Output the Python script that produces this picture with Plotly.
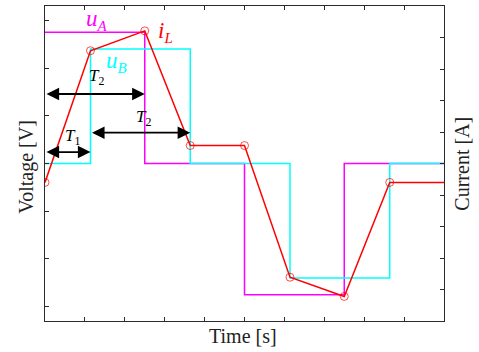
import plotly.graph_objects as go

# switching instants (time axis 0..10), T1 shift and T2 half period
t_a = [0, 2.5, 5, 7.5, 10]
u_a = [2.75, 0, -2.75, 0, 0]

t_b = [0, 1.14, 3.64, 6.14, 8.64, 10]
u_b = [0, 2.4, 0, -2.4, 0, 0]

t_i = [0, 1.14, 2.5, 3.64, 5, 6.14, 7.5, 8.64, 10]
i_l = [-0.6, 3.58, 4.21, 0.57, 0.57, -3.61, -4.22, -0.6, -0.6]

serif = "Liberation Serif, DejaVu Serif, serif"
axcol = "#2b2b2b"

fig = go.Figure()
fig.add_trace(go.Scatter(x=t_a, y=u_a, mode="lines", line_shape="hv",
                         line=dict(color="#ff00ff", width=1.5)))
fig.add_trace(go.Scatter(x=t_b, y=u_b, mode="lines", line_shape="hv",
                         line=dict(color="#00ffff", width=1.5)))
fig.add_trace(go.Scatter(x=t_i, y=i_l, yaxis="y2", mode="lines+markers",
                         line=dict(color="#ff0000", width=1.5),
                         marker=dict(symbol="circle-open", color="#ff0000",
                                     size=[8] * 8 + [0], line=dict(width=1))))

# double arrows for T1 / T2
arrows = [(0, 2.5, 1.456), (1.14, 3.64, 0.645), (0, 1.14, 0.24)]
for x0, x1, yy in arrows:
    fig.add_annotation(x=x1, y=yy, ax=x0, ay=yy, xref="x", yref="y",
                       axref="x", ayref="y", text="", showarrow=True,
                       arrowside="end+start", arrowhead=2, arrowsize=1.4,
                       arrowwidth=1.8, arrowcolor="black")

sub = "<sub><span style='font-size:15px'>%s</span></sub>"
labels = [
    (1.30, 3.0, "<i>u</i>" + sub % "<i>A</i>", "#ff00ff", 23),
    (3.02, 2.76, "<i>i</i>" + sub % "<i>L</i>", "#ff0000", 23),
    (1.80, 2.13, "<i>u</i>" + sub % "<i>B</i>", "#00ffff", 23),
    (1.28, 1.81, "<i>T</i><sub>2</sub>", "black", 17),
    (2.46, 0.95, "<i>T</i><sub>2</sub>", "black", 17),
    (0.70, 0.56, "<i>T</i><sub>1</sub>", "black", 17),
]
for x, y, txt, col, sz in labels:
    fig.add_annotation(x=x, y=y, xref="x", yref="y", text=txt, showarrow=False,
                       font=dict(family=serif, size=sz, color=col))

# axis titles placed as paper annotations so the plot frame stays put
titles = [
    (0.496, -0.047, "Time [s]", 0),
    (-0.045, 0.49, "Voltage [V]", -90),
    (1.043, 0.5, "Current [A]", -90),
]
for x, y, txt, ang in titles:
    fig.add_annotation(x=x, y=y, xref="paper", yref="paper", text=txt,
                       textangle=ang, showarrow=False, xanchor="center",
                       yanchor="middle", font=dict(family=serif, size=20, color="#222"))

fig.update_layout(
    width=479, height=352,
    margin=dict(l=45, r=35, t=6, b=31),
    paper_bgcolor="white", plot_bgcolor="white",
    showlegend=False,
    font=dict(family=serif, size=17, color="#222"),
    xaxis=dict(range=[0, 10], dtick=1, showticklabels=False, showgrid=False,
               zeroline=False, showline=True, linecolor=axcol, linewidth=1.2,
               mirror="ticks", ticks="inside", ticklen=4, tickcolor=axcol,
               automargin=False),
    yaxis=dict(range=[-3.3, 3.3], dtick=1, showticklabels=False, showgrid=False,
               zeroline=False, showline=True, linecolor=axcol, linewidth=1.2,
               ticks="inside", ticklen=4, tickcolor=axcol, automargin=False),
    yaxis2=dict(range=[-5, 5], dtick=1, overlaying="y", side="right",
                showticklabels=False, showgrid=False, zeroline=False,
                showline=True, linecolor=axcol, linewidth=1.2,
                ticks="inside", ticklen=4, tickcolor=axcol, automargin=False),
)

fig.write_html("out.html", config={"displayModeBar": False},
               post_script="document.body.style.margin='0px';")
